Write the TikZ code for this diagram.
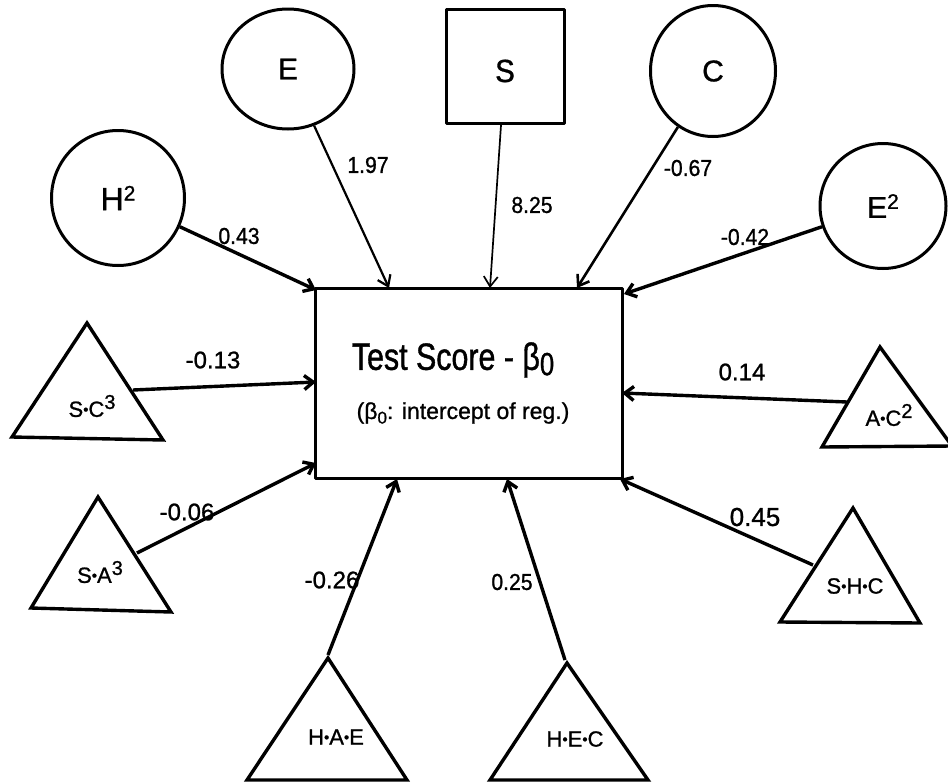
\documentclass[tikz,border=0pt]{standalone}
\usepackage{fontspec}
\setmainfont{Liberation Sans}[FakeBold=1]
\newfontfamily\condfont{Liberation Sans}[FakeStretch=0.8,FakeBold=1]
\newfontfamily\semicond{Liberation Sans}[FakeStretch=0.92,FakeBold=1]
\usetikzlibrary{arrows.meta,shapes.geometric}
\newcommand{\dotsep}{\raisebox{0.1em}{\fontsize{15}{15}\selectfont •}}
\newcommand{\pw}[1]{\raisebox{0.36em}{\fontsize{20}{20}\selectfont #1}}
\newcommand{\sq}[1]{\raisebox{0.3em}{\fontsize{21}{21}\selectfont #1}}
\begin{document}
\begin{tikzpicture}[x=1pt,y=-1pt,
  shapeline/.style={draw,line width=3pt,line join=round},
  varcircle/.style={shapeline,ellipse,inner sep=0pt,font=\fontsize{30}{30}\selectfont},
  tri/.style={line width=3.4pt,line join=miter},
  trilabel/.style={inner sep=0pt,font=\fontsize{22}{22}\selectfont},
  coef/.style={inner sep=0pt,font=\fontsize{24}{24}\selectfont},
  topcoef/.style={inner sep=0pt,font=\semicond\fontsize{23}{23}\selectfont},
  conn/.style={line width=3.4pt,-{Straight Barb[length=9pt,width=14pt]}},
  thinconn/.style={line width=2pt,-{Straight Barb[length=10pt,width=14pt]}}]
\useasboundingbox (0,0) rectangle (948,782);

% central outcome box
\node[shapeline,minimum width=307pt,minimum height=190pt,inner sep=0pt] (box) at (468.5,383) {};
\node[inner sep=0pt,font=\condfont\fontsize{38}{38}\selectfont] (title) at (453,360)
  {Test Score - β\raisebox{-0.14em}{\fontsize{32}{32}\selectfont 0}};
\node[inner sep=0pt,font=\fontsize{23}{23}\selectfont] (subtitle) at (463,413)
  {(β\raisebox{-0.2em}{\fontsize{17}{17}\selectfont 0}: intercept of reg.)};

% main-effect and squared terms
\node[varcircle,minimum width=133pt,minimum height=135pt,font=\fontsize{32}{32}\selectfont] (H2) at (118,198) {H\sq{2}};
\node[varcircle,minimum width=132pt,minimum height=120pt] (E) at (288,69) {E};
\node[shapeline,minimum width=118pt,minimum height=114pt,inner sep=0pt,font=\semicond\fontsize{32}{32}\selectfont] (S) at (505,66) {\raisebox{-16pt}[0pt][0pt]{S}};
\node[varcircle,minimum width=125pt,minimum height=131pt] (C) at (713,71) {C};
\node[varcircle,minimum width=126pt,minimum height=125pt] (E2) at (883,206) {E\sq{2}};

% interaction terms (triangles)
\draw[tri] (87,323) -- (12,437) -- (163,440) -- cycle;
\node[trilabel] (SC3) at (92,406) {S\dotsep C\pw{3}};
\draw[tri] (98,497) -- (31,608) -- (171,612) -- cycle;
\node[trilabel] (SA3) at (100,572) {S\dotsep A\pw{3}};
\draw[tri] (880,347) -- (822,447) -- (952,446) -- cycle;
\node[trilabel] (AC2) at (889,415) {A\dotsep C\pw{2}};
\draw[tri] (853,508) -- (780,622) -- (920,623) -- cycle;
\node[trilabel] (SHC) at (855,586) {S\dotsep H\dotsep C};
\draw[tri] (328,658) -- (247,780) -- (407,780) -- cycle;
\node[trilabel] (HAE) at (336,737) {H\dotsep A\dotsep E};
\draw[tri] (567,663) -- (490,780) -- (648,780) -- cycle;
\node[trilabel] (HEC) at (575,739) {H\dotsep E\dotsep C};

% connector start points on the triangle edges
\coordinate (sc3out) at (133,390);
\coordinate (sa3out) at (137,553);
\coordinate (ac2out) at (847,402);
\coordinate (shcout) at (813,565);
\coordinate (haeout) at (328,655);
\coordinate (hecout) at (565,660);

% connector end points on the box border
\coordinate (h2in) at (316,290);
\coordinate (ein) at (389,288);
\coordinate (sin) at (490,288);
\coordinate (cin) at (577,288);
\coordinate (e2in) at (624,294);
\coordinate (sc3in) at (316,382);
\coordinate (sa3in) at (316,463);
\coordinate (ac2in) at (622,393);
\coordinate (shcin) at (620,479);
\coordinate (haein) at (397,479);
\coordinate (hecin) at (507,479);

% regression paths
\draw[conn] (H2) -- (h2in);
\draw[thinconn,line width=2.2pt] (E) -- (ein);
\draw[thinconn,line width=1.7pt] (S) -- (sin);
\draw[thinconn,line width=2.6pt] (C) -- (cin);
\draw[conn] (E2) -- (e2in);
\draw[conn] (sc3out) -- (sc3in);
\draw[conn] (sa3out) -- (sa3in);
\draw[conn] (ac2out) -- (ac2in);
\draw[conn] (shcout) -- (shcin);
\draw[conn] (haeout) -- (haein);
\draw[conn] (hecout) -- (hecin);

% coefficients
\node[topcoef] (c043) at (239,236) {0.43};
\node[topcoef] (c197) at (368,165) {1.97};
\node[topcoef] (c825) at (532,205) {8.25};
\node[topcoef] (c067) at (688,168) {-0.67};
\node[topcoef] (c042) at (745,237) {-0.42};
\node[coef] (c013) at (213,360) {-0.13};
\node[coef] (c006) at (187,512) {-0.06};
\node[coef] (c014) at (742,372) {0.14};
\node[coef,font=\fontsize{26}{26}\selectfont] (c045) at (755,517) {0.45};
\node[coef] (c026) at (332,580) {-0.26};
\node[topcoef] (c025) at (512,582) {0.25};
\end{tikzpicture}
\end{document}
